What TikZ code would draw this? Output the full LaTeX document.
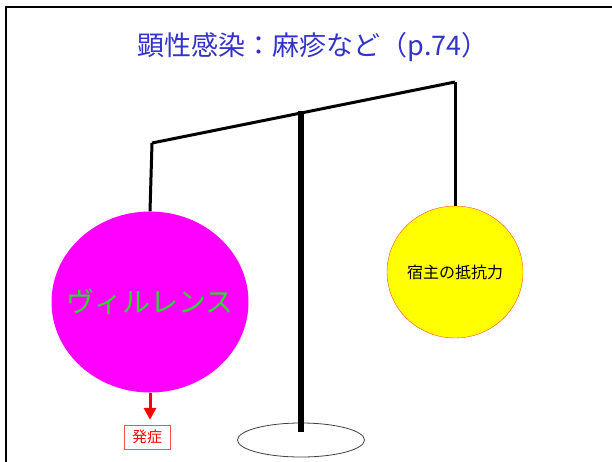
\documentclass[tikz,border=0pt]{standalone}
\usepackage{fontspec}
\newfontfamily\jpfont{Noto Sans CJK JP}
\usepackage{tikz}
\usetikzlibrary{shapes.geometric,arrows.meta}
\definecolor{titleblue}{RGB}{51,51,204}
\definecolor{virgreen}{RGB}{40,220,40}
\definecolor{boxred}{RGB}{255,80,80}
\definecolor{rimred}{RGB}{255,80,40}
\definecolor{panmagenta}{RGB}{255,0,255}
\definecolor{panyellow}{RGB}{255,255,0}
\definecolor{arrowred}{RGB}{255,0,0}

\begin{document}
\begin{tikzpicture}[x=1pt,y=-1pt,
	rope/.style={line width=3pt, black},
	weight/.style={ellipse, inner sep=0pt}]
	\useasboundingbox (0,0) rectangle (612,461);
	% slide frame, runs off the page right and below
	\draw [line width=2pt] (6,475) -- (6,7) -- (625,7);

	\node at (313,47) (title) [text=titleblue, font=\jpfont\fontsize{27}{31}\selectfont] {顕性感染：麻疹など（p.74）};

	\coordinate (beamL) at (152,143);
	\coordinate (beamR) at (455,82);
	\coordinate (poletop) at (301,111);
	\coordinate (polefoot) at (301,432);

	% stand
	\node [ellipse, draw=black!75, line width=0.8pt, fill=white, minimum width=127, minimum height=34, inner sep=0pt] (base) at (301,440) {};
	\draw [rope] (beamL) -- (beamR);
	\draw [line width=6pt] (poletop) -- (polefoot);

	% the two pans
	\node [weight, fill=panmagenta, minimum width=197, minimum height=181,
		label={[text=virgreen, font=\jpfont\fontsize{28}{32}\selectfont]center:ヴィルレンス}] (virulence) at (150,302) {};
	\node [weight, draw=rimred, thin, fill=panyellow, minimum width=136, minimum height=132,
		label={[font=\jpfont\fontsize{16}{18}\selectfont]center:宿主の抵抗力}] (resistance) at (455,272) {};
	\draw [rope] (beamL) -- (virulence.north);
	\draw [rope] (beamR) -- (resistance.north);

	%\node [draw] at (147,437) {};
	\node [draw=boxred, text=arrowred, inner xsep=8, inner ysep=5, font=\jpfont\fontsize{15}{17}\selectfont] (symptom) at (147,437) {発症};
	\draw [arrowred, line width=3pt, -{Triangle[length=12pt,width=12pt]}, shorten >=5pt] (virulence.south) -- (virulence.south |- symptom.north);
\end{tikzpicture}
\end{document}
